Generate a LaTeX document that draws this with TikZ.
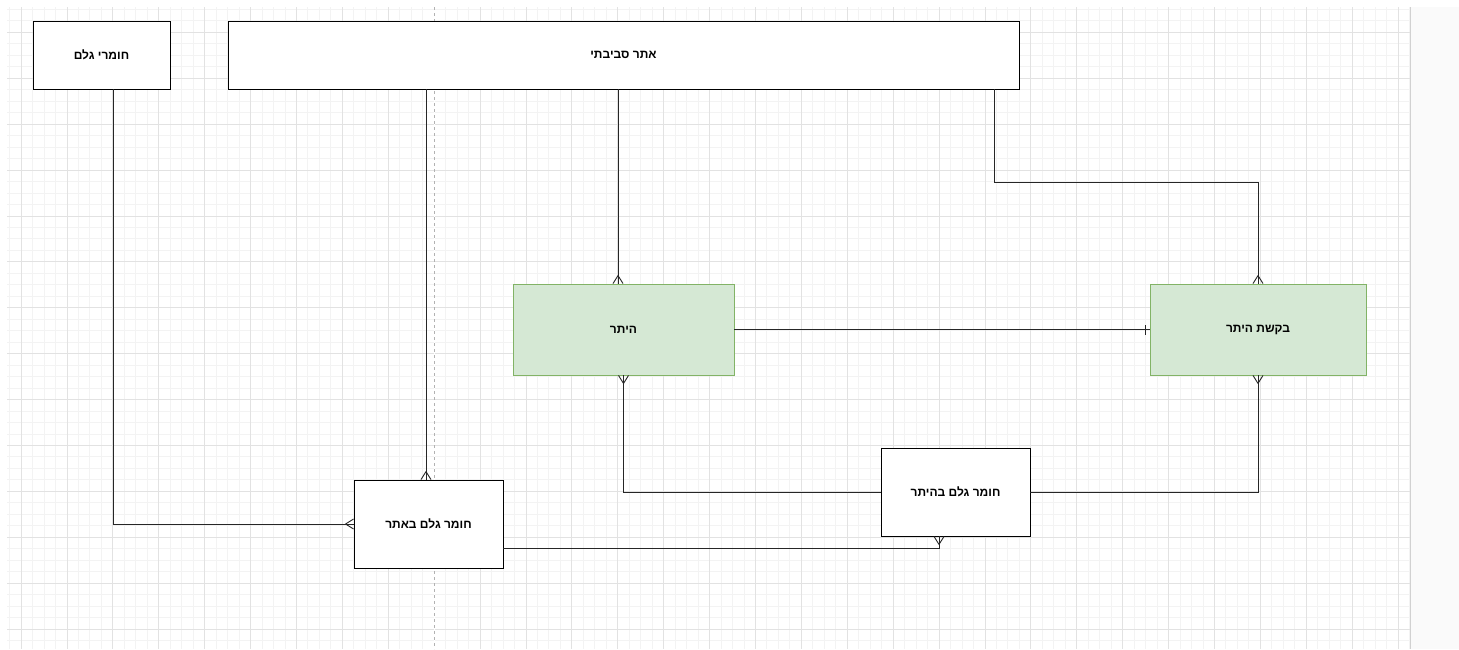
\documentclass[tikz,border=0pt]{standalone}
\usepackage{fontspec}
\setmainfont{Liberation Sans}
\newfontfamily\hebfont[Script=Hebrew]{Liberation Sans}
\TeXXeTstate=1
\definecolor{permitfill}{RGB}{213, 232, 212}
\definecolor{permitdraw}{RGB}{130, 179, 102}
\definecolor{minorgrid}{RGB}{243, 243, 243}
\definecolor{majorgrid}{RGB}{226, 226, 226}
\definecolor{sidegray}{RGB}{250, 250, 250}
\usetikzlibrary{positioning, calc, decorations.markings}

\begin{document}
\begin{tikzpicture}[
  x=1pt, y=-1pt,
  entity/.style={draw=black, line width=0.9pt, fill=white, inner sep=0pt, align=center,
    font=\hebfont\bfseries\fontsize{12}{14}\selectfont},
  greenentity/.style={entity, draw=permitdraw, fill=permitfill},
  link/.style={draw=black!85, line width=0.9pt},
  crow/.style={link, postaction={decorate, decoration={markings, mark=at position 1 with {
    \draw[black!85, line width=0.9pt] (-8pt,0pt) -- (0pt,5pt);
    \draw[black!85, line width=0.9pt] (-8pt,0pt) -- (0pt,-5pt);}}}},
  onebar/.style={link, postaction={decorate, decoration={markings, mark=at position 1 with {
    \draw[black!85, line width=0.9pt] (-4pt,-5pt) -- (-4pt,5pt);}}}}
]
  \useasboundingbox (0,0) rectangle (1459,649);
  \fill[white] (0,0) rectangle (1459,649);
  \fill[sidegray] (1410,7) rectangle (1459,649);

  % grid
  \foreach \i in {0,...,122}
    \draw[minorgrid, line width=0.8pt] ({9.525+11.475*\i},7) -- ({9.525+11.475*\i},649);
  \foreach \j in {0,...,55}
    \draw[minorgrid, line width=0.8pt] (7,{9.35+11.475*\j}) -- (1410,{9.35+11.475*\j});
  \foreach \k in {0,...,30}
    \draw[majorgrid, line width=0.8pt] ({21+45.9*\k},7) -- ({21+45.9*\k},649);
  \foreach \k in {0,...,13}
    \draw[majorgrid, line width=0.8pt] (7,{32.3+45.9*\k}) -- (1410,{32.3+45.9*\k});
  \draw[white, line width=1.2pt] (434.1,7) -- (434.1,649);
  \draw[black!30, dashed, line width=0.8pt] (434.1,7) -- (434.1,649);
  \draw[black!18, line width=1pt] (1410,7) -- (1410,649);

  % entities
  \node[entity, minimum width=137, minimum height=68] (raw) at (101.5,55) {\beginR חומרי גלם\endR};
  \node[entity, minimum width=791, minimum height=68] (site) at (623.5,55) {\beginR אתר סביבתי\endR};
  \node[greenentity, minimum width=221, minimum height=91] (permit) at (623.5,329.5) {\beginR היתר\endR};
  \node[greenentity, minimum width=216, minimum height=91] (request) at (1258,329.5) {\beginR בקשת היתר\endR};
  \node[entity, minimum width=149, minimum height=88] (sitemat) at (428.5,524) {\beginR חומר גלם באתר\endR};
  \node[entity, minimum width=149, minimum height=88] (permmat) at (955.5,492) {\beginR חומר גלם בהיתר\endR};

  \coordinate (rawout) at ([xshift=11.5pt]raw.south);
  \coordinate (sitein) at ([xshift=-2.5pt]sitemat.north);
  \coordinate (permin) at ([xshift=-5.5pt]permit.north);
  \coordinate (siteout) at ([xshift=370.5pt]site.south);
  \coordinate (sitematout) at ([yshift=-24pt]sitemat.east);
  \coordinate (permmatin) at ([xshift=-16.5pt]permmat.south);

  % relations
  \draw[crow] (rawout) |- (sitemat.west);
  \draw[crow] (sitein |- site.south) -- (sitein);
  \draw[crow] (permin |- site.south) -- (permin);
  \draw[crow] (siteout) -- ++(0,93) -| (request.north);
  \draw[onebar] (permit.east) -- (request.west);
  \draw[crow] (permmat.west) -| (permit.south);
  \draw[crow] (permmat.east) -| (request.south);
  \draw[crow] (sitematout) -| (permmatin);
\end{tikzpicture}
\end{document}
